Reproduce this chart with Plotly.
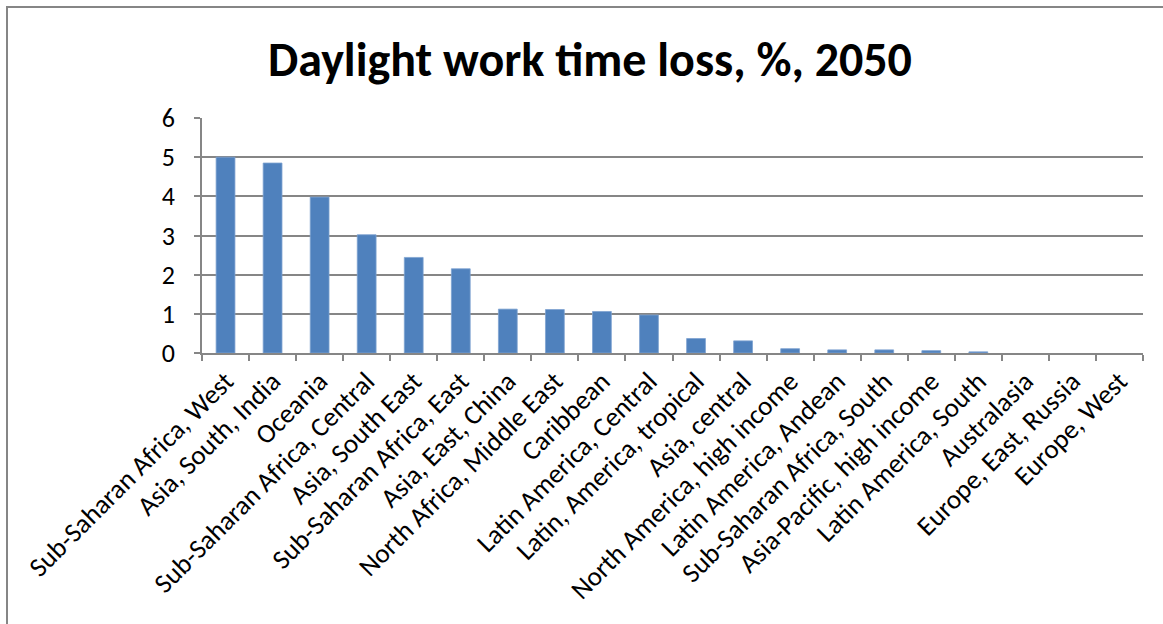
import plotly.graph_objects as go

regions = [
    "Sub-Saharan Africa, West", "Asia, South, India", "Oceania",
    "Sub-Saharan Africa, Central", "Asia, South East", "Sub-Saharan Africa, East",
    "Asia, East, China", "North Africa, Middle East", "Caribbean",
    "Latin America, Central", "Latin, America, tropical", "Asia, central",
    "North America, high income", "Latin America, Andean", "Sub-Saharan Africa, South",
    "Asia-Pacific, high income", "Latin America, South", "Australasia",
    "Europe, East, Russia", "Europe, West",
]
loss_pct = [5.0, 4.85, 3.98, 3.02, 2.44, 2.15, 1.12, 1.11, 1.06, 0.97,
            0.37, 0.31, 0.11, 0.08, 0.08, 0.06, 0.03, 0.0, 0.0, 0.0]
y_ticks = [0, 1, 2, 3, 4, 5, 6]
title_text = "Daylight work time loss, %, 2050"

FONT = "Carlito, Calibri, Lato, sans-serif"

fig = go.Figure(go.Bar(
    x=regions, y=loss_pct,
    marker=dict(color="#4F81BD",
                line=dict(color="#7DA2D0", width=[0.8 if v > 0 else 0 for v in loss_pct])),
))

L, R, T, B = 202, 20, 118, 271
W, H = 1163, 624
pw, ph = W - L - R, H - T - B

fig.update_layout(
    width=W, height=H,
    margin=dict(l=L, r=R, t=T, b=B, pad=0, autoexpand=False),
    paper_bgcolor="white", plot_bgcolor="white",
    bargap=0.6,
    showlegend=False,
    title=dict(text="<b>" + title_text + "</b>", x=590 / W, xanchor="center",
               y=1 - 59 / H, yanchor="middle", yref="container",
               font=dict(family=FONT, size=48, color="black")),
    font=dict(family=FONT, color="black"),
    xaxis=dict(
        tickangle=-45, tickfont=dict(size=27, family=FONT, color="black"),
        showline=True, linecolor="#868686", linewidth=1.5,
        ticks="outside", ticklen=6, tickcolor="#868686", tickwidth=1.5,
        tickson="boundaries", showgrid=False, automargin=False,
    ),
    yaxis=dict(
        range=[0, 6], tickvals=y_ticks, tickfont=dict(size=26, family=FONT, color="black"),
        showline=True, linecolor="#868686", linewidth=1.5,
        ticks="outside", ticklen=6, tickcolor="#868686", tickwidth=1.5,
        showgrid=True, gridcolor="#868686", gridwidth=1.5,
        zeroline=False, ticklabelstandoff=14, automargin=False,
    ),
    shapes=[dict(
        type="rect", xref="paper", yref="paper",
        x0=(7 - L) / pw, x1=(W + 20 - L) / pw,
        y0=-(H + 20 - (H - B)) / ph, y1=(H - B - 7) / ph,
        line=dict(color="#868686", width=2), fillcolor="rgba(0,0,0,0)", layer="below",
    )],
)

fig.write_html("out.html", config={"displayModeBar": False},
               post_script="document.body.style.margin='0px';")
